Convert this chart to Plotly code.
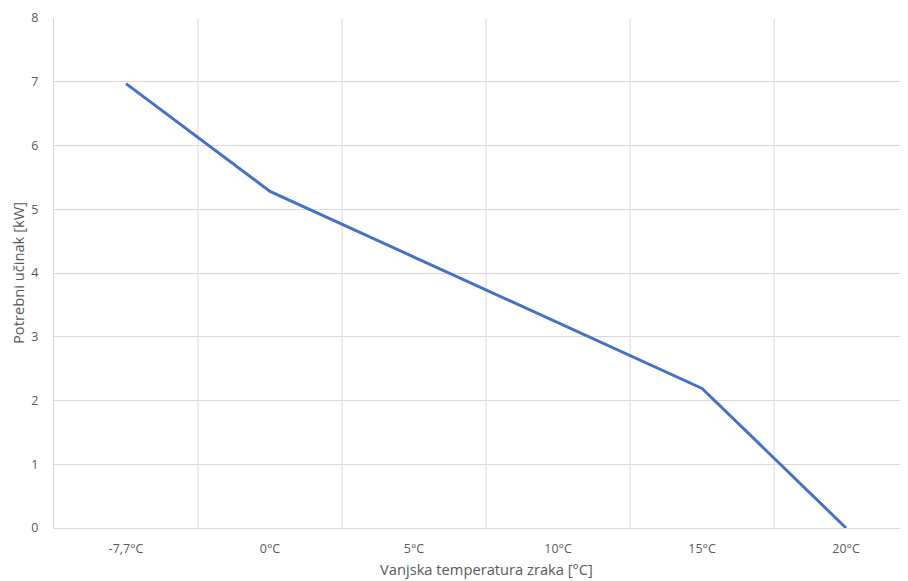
import plotly.graph_objects as go

categories = ["-7,7°C", "0°C", "5°C", "10°C", "15°C", "20°C"]
values = [6.97, 5.28, 4.25, 3.22, 2.19, 0.0]
y_ticks = [0, 1, 2, 3, 4, 5, 6, 7, 8]
x_title = "Vanjska temperatura zraka [°C]"
y_title = "Potrebni učinak [kW]"

font_family = "Open Sans"
text_color = "#595959"
grid_color = "#D9D9D9"

fig = go.Figure()
fig.add_trace(go.Scatter(
    x=list(range(len(categories))),
    y=values,
    mode="lines",
    line=dict(color="#4472C4", width=3),
    hoverinfo="skip",
    showlegend=False,
))

# vertical gridlines between categories
for b in [i + 0.5 for i in range(len(categories))]:
    fig.add_shape(type="line", xref="x", yref="paper", x0=b, x1=b, y0=0, y1=1,
                  line=dict(color=grid_color, width=1), layer="below")

# x-axis title (centred on the full, partly cropped, plot area)
fig.add_annotation(text=x_title, xref="paper", yref="paper", x=0.5059, y=0,
                   xanchor="center", yanchor="middle", yshift=-41, showarrow=False,
                   font=dict(size=14.7, color=text_color))

fig.update_layout(
    width=900, height=573,
    margin=dict(l=46, r=0, t=10, b=53),
    paper_bgcolor="white", plot_bgcolor="white",
    font=dict(family=font_family, size=12.5, color=text_color),
    xaxis=dict(
        range=[-0.5, 5.43],
        tickmode="array",
        tickvals=list(range(len(categories))),
        ticktext=categories,
        showgrid=False, zeroline=False,
        showline=True, linecolor=grid_color, linewidth=1,
        ticks="outside", ticklen=9, tickcolor="rgba(0,0,0,0)",
    ),
    yaxis=dict(
        range=[0, 8],
        tickmode="array",
        tickvals=y_ticks,
        showgrid=True, gridcolor=grid_color, gridwidth=1,
        zeroline=False,
        showline=True, linecolor=grid_color, linewidth=1,
        ticks="outside", ticklen=12, tickcolor="rgba(0,0,0,0)",
        title=dict(text=y_title, standoff=4,
                   font=dict(size=14.7, color=text_color)),
    ),
)

fig.write_html("out.html")
